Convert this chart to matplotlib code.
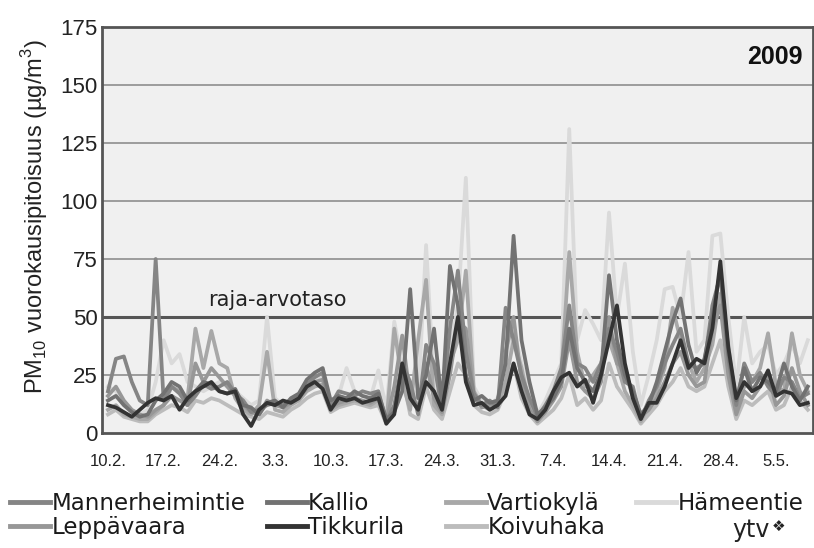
import numpy as np
import matplotlib
matplotlib.use('Agg')
import matplotlib.pyplot as plt

plt.rcParams['font.family'] = ['Liberation Sans', 'DejaVu Sans']

# daily PM10 values, 10.2. - 9.5.2009 (one row per week)
mannerheimintie = [
    18, 32, 33, 22, 14, 12, 75,
    14, 20, 17, 12, 16, 21, 19,
    20, 22, 17, 14, 9, 10, 12,
    13, 12, 14, 16, 21, 24, 26,
    12, 18, 17, 16, 18, 17, 18,
    5, 12, 30, 22, 8, 38, 30,
    10, 45, 70, 35, 17, 12, 14,
    11, 54, 40, 25, 15, 7, 12,
    18, 28, 55, 30, 28, 22, 30,
    45, 35, 22, 20, 6, 14, 20,
    30, 38, 45, 30, 28, 30, 55,
    68, 32, 12, 30, 22, 26, 20,
    16, 24, 22, 15, 17,
]
kallio = [
    14, 16, 12, 9, 7, 8, 14,
    17, 22, 20, 14, 18, 22, 21,
    18, 17, 19, 12, 11, 8, 13,
    14, 11, 15, 17, 23, 26, 28,
    14, 16, 15, 18, 16, 15, 17,
    6, 9, 18, 62, 15, 25, 45,
    12, 72, 55, 25, 14, 16, 13,
    14, 30, 85, 40, 22, 8, 11,
    15, 22, 45, 28, 22, 18, 26,
    68, 40, 25, 18, 8, 12, 22,
    35, 48, 58, 38, 26, 32, 50,
    70, 35, 14, 28, 18, 24, 22,
    18, 30, 20, 14, 20,
]
vartiokyla = [
    10, 12, 8, 7, 6, 6, 9,
    12, 20, 18, 15, 45, 28, 44,
    30, 28, 15, 10, 8, 12, 35,
    10, 9, 12, 14, 18, 20, 21,
    10, 12, 13, 14, 13, 12, 14,
    4, 45, 22, 10, 40, 66, 12,
    8, 30, 40, 70, 18, 12, 10,
    12, 22, 40, 28, 12, 6, 10,
    16, 25, 78, 35, 20, 25, 30,
    40, 30, 18, 12, 5, 12, 18,
    28, 54, 40, 30, 22, 28, 38,
    60, 38, 10, 20, 22, 28, 43,
    20, 18, 43, 25, 18,
]
hameentie = [
    20, 18, 12, 9, 8, 10, 22,
    40, 30, 34, 22, 20, 18, 20,
    22, 20, 18, 15, 12, 14, 50,
    15, 12, 14, 16, 20, 22, 24,
    12, 16, 28, 18, 16, 15, 27,
    10, 48, 30, 20, 15, 81, 20,
    10, 35, 55, 110, 20, 14, 12,
    15, 30, 45, 30, 18, 8, 14,
    22, 30, 131, 40, 53, 47, 40,
    95, 50, 73, 35, 12, 25, 40,
    62, 63, 50, 78, 35, 40, 85,
    86, 50, 20, 50, 30, 35, 38,
    25, 30, 38, 30, 40,
]
leppavaara = [
    16, 20, 14, 10, 8, 7, 10,
    12, 16, 14, 12, 30, 22, 28,
    24, 20, 16, 12, 9, 8, 14,
    12, 11, 13, 15, 19, 22, 23,
    11, 13, 14, 15, 14, 13, 15,
    5, 20, 42, 15, 10, 30, 15,
    9, 25, 48, 45, 16, 11, 12,
    13, 35, 50, 22, 10, 5, 9,
    14, 20, 40, 22, 18, 15, 22,
    50, 30, 28, 15, 7, 10, 15,
    22, 30, 35, 25, 20, 22, 45,
    55, 25, 8, 18, 15, 20, 25,
    12, 16, 28, 18, 12,
]
tikkurila = [
    12, 11, 9, 7, 10, 13, 15,
    14, 16, 10, 15, 18, 20, 22,
    18, 17, 18, 8, 3, 10, 13,
    12, 14, 13, 15, 20, 22, 19,
    10, 15, 14, 15, 13, 14, 15,
    4, 8, 30, 15, 10, 22, 18,
    10, 30, 50, 22, 12, 13, 10,
    12, 16, 30, 18, 8, 6, 10,
    18, 24, 26, 20, 23, 13, 25,
    40, 55, 30, 15, 6, 13, 13,
    20, 30, 40, 28, 32, 30, 45,
    74, 37, 15, 22, 18, 20, 27,
    16, 18, 17, 12, 13,
]
koivuhaka = [
    8, 10, 7, 6, 5, 5, 8,
    10, 12, 11, 9, 14, 13, 15,
    14, 12, 10, 8, 7, 6, 9,
    8, 7, 10, 12, 15, 17, 18,
    9, 11, 12, 13, 12, 11, 12,
    4, 10, 25, 8, 6, 20, 10,
    6, 18, 30, 25, 12, 9, 8,
    10, 18, 30, 15, 8, 4, 7,
    10, 15, 25, 12, 15, 10, 14,
    30, 20, 15, 10, 4, 8, 12,
    18, 22, 28, 20, 18, 20, 30,
    40, 20, 6, 14, 12, 15, 18,
    10, 12, 20, 14, 10,
]

week_labels = ['10.2.', '17.2.', '24.2.', '3.3.', '10.3.', '17.3.', '24.3.',
               '31.3.', '7.4.', '14.4.', '21.4.', '28.4.', '5.5.']
limit_value = 50

series = [
    ('Mannerheimintie', mannerheimintie, '#858585'),
    ('Leppävaara', leppavaara, '#979797'),
    ('Kallio', kallio, '#727272'),
    ('Tikkurila', tikkurila, '#333333'),
    ('Vartiokylä', vartiokyla, '#a8a8a8'),
    ('Koivuhaka', koivuhaka, '#bcbcbc'),
    ('Hämeentie', hameentie, '#dadada'),
]
draw_order = ['Hämeentie', 'Koivuhaka', 'Vartiokylä', 'Leppävaara',
              'Mannerheimintie', 'Kallio', 'Tikkurila']

fig = plt.figure(figsize=(8.14, 5.48), dpi=100)
ax = fig.add_axes([102 / 814, 115 / 548, 711 / 814, 406 / 548])
ax.set_facecolor('#f0f0f0')

days = np.arange(len(mannerheimintie))
handles = {}
for name in draw_order:
    label, values, color = [s for s in series if s[0] == name][0]
    line, = ax.plot(days, values, color=color, lw=2.7, label=label,
                    solid_joinstyle='round', zorder=3)
    handles[label] = line

for v in [25, 75, 100, 125, 150]:
    ax.axhline(v, color='#8e8e8e', lw=1.2, zorder=1)
ax.axhline(limit_value, color='#555555', lw=2.2, zorder=2)

ax.set_xlim(-0.75, 88.65)
ax.set_ylim(0, 175)
ax.set_yticks(range(0, 176, 25))
ax.set_xticks(range(0, 85, 7))
ax.set_xticklabels(week_labels)
ax.tick_params(axis='y', length=0, pad=3, labelsize=16, labelcolor='#222222')
ax.tick_params(axis='x', length=0, pad=15, labelsize=12, labelcolor='#222222')
for sp in ax.spines.values():
    sp.set_color('#555555')
    sp.set_linewidth(2)

ax.text(0.985, 0.926, '2009', transform=ax.transAxes, ha='right', va='center',
        fontsize=18, fontweight='bold', color='#111111')
ax.text(12.6, 57.5, 'raja-arvotaso', ha='left', va='center', fontsize=15,
        family=['DejaVu Sans'], color='#222222')

fig.text(35 / 814, 1 - 217 / 548,
         'PM$_\\mathregular{10}$ vuorokausipitoisuus (µg/m$^\\mathregular{3}$)',
         rotation=90, ha='center', va='center', fontsize=17, color='#222222')

# legend, one column at a time
columns = [(['Mannerheimintie', 'Leppävaara'], 10),
           (['Kallio', 'Tikkurila'], 267),
           (['Vartiokylä', 'Koivuhaka'], 446),
           (['Hämeentie'], 636)]
for names, x0 in columns:
    leg = fig.legend([handles[n] for n in names], names, loc='upper left',
                     bbox_to_anchor=(x0 / 814, 1 - 492 / 548), frameon=False,
                     borderpad=0, borderaxespad=0, handlelength=1.75,
                     handletextpad=0.05, labelspacing=0.05,
                     prop={'family': 'DejaVu Sans', 'size': 16.5})
    for t in leg.get_texts():
        t.set_color('#1a1a1a')
    for ln in leg.get_lines():
        ln.set_linewidth(3.5)

fig.text(732 / 814, 1 - 537 / 548, 'ytv', ha='left', va='baseline',
         fontsize=17, family=['DejaVu Sans'], color='#222222')
fig.text(772 / 814, 1 - 526 / 548, '❖', ha='left', va='center',
         fontsize=11, family=['DejaVu Sans'], color='#222222')

fig.savefig('out.png', dpi=100)
